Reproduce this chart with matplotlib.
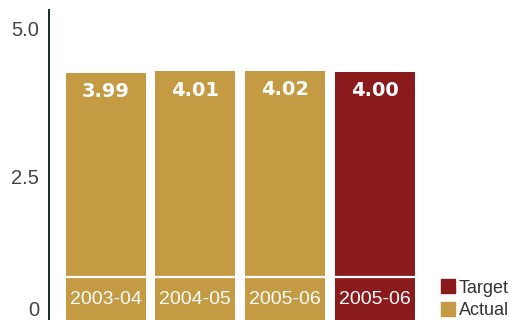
import matplotlib.pyplot as plt
import matplotlib.transforms as mtransforms
from matplotlib.patches import Patch

# --------------------------------
years = ['2003-04', '2004-05', '2005-06', '2005-06']
values = [3.99, 4.01, 4.02, 4.00]
kinds = ['Actual', 'Actual', 'Actual', 'Target']
yticks = [0, 2.5, 5.0]
yticklabels = ['0', '2.5', '5.0']

gold = '#C49A42'
red = '#8B1A1C'
colors = {'Actual': gold, 'Target': red}

light = ['Liberation Sans', 'DejaVu Sans']

# --------------------------------
fig = plt.figure(figsize=(5.14, 3.2), dpi=100)
ax = fig.add_axes([49 / 514, 0, 465 / 514, 310 / 320])

xs = list(range(len(values)))
ax.bar(xs, values, width=0.89, color=[colors[k] for k in kinds], zorder=1)

# white rule above the year band
ax.axhline(0.70, color='white', lw=1.6, zorder=2)

for x, v, yr in zip(xs, values, years):
    ax.annotate('%.2f' % v, (x, v), xytext=(0, -19), textcoords='offset pixels',
                ha='center', va='center', color='white', fontsize=14,
                fontweight='bold', family='DejaVu Sans')
    ax.annotate(yr, (x, 0), xytext=(0, 20), textcoords='offset pixels',
                ha='center', va='center', color='white', fontsize=14,
                family=light)

ax.set_xlim(-0.63, 4.55)
ax.set_ylim(0, 5.0)
ax.set_xticks([])
ax.set_yticks(yticks)
ax.set_yticklabels(yticklabels, fontsize=14.5, color='#444444', family=light)
ax.tick_params(axis='y', length=0, pad=7)

# nudge the tick labels down a little
labs = ax.get_yticklabels()
labs[0].set_va('bottom')
for lab, dy in zip(labs, [0, 12, 18]):
    off = mtransforms.ScaledTranslation(0, -dy / 100, fig.dpi_scale_trans)
    lab.set_transform(lab.get_transform() + off)

for s in ['top', 'right', 'bottom']:
    ax.spines[s].set_visible(False)
ax.spines['left'].set_color('#1a2a30')
ax.spines['left'].set_linewidth(1.4)

handles = [Patch(color=red), Patch(color=gold)]
leg = fig.legend(handles, ['Target', 'Actual'], loc='lower left',
                 bbox_to_anchor=(441 / 514, 1 / 320), frameon=False,
                 borderpad=0, borderaxespad=0, handlelength=0.78,
                 handleheight=0.78, handletextpad=0.2, labelspacing=0.3,
                 prop={'family': light, 'size': 13})
for t in leg.get_texts():
    t.set_color('#333333')

fig.savefig('out.png', dpi=100)
